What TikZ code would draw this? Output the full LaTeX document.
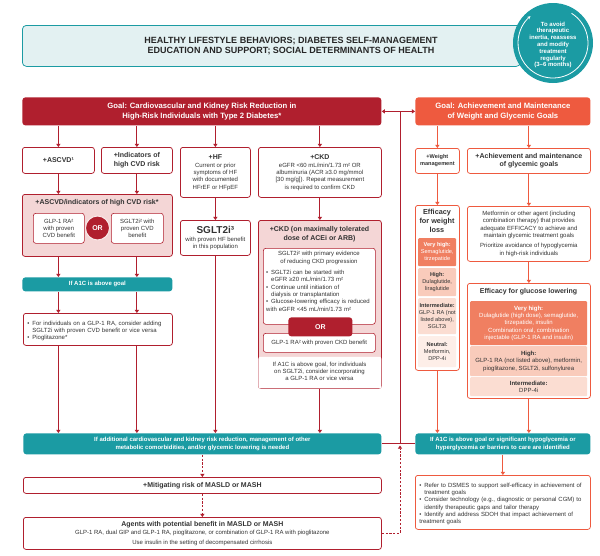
\documentclass[tikz,border=0pt]{standalone}
\usepackage{fontspec}
\setmainfont{Liberation Sans}
\usetikzlibrary{arrows.meta,calc}
\definecolor{dred}{HTML}{B01F2E}
\definecolor{pinkf}{HTML}{F4D6D6}
\definecolor{orng}{HTML}{EE5A3F}
\definecolor{teal1}{HTML}{1B9BA3}
\definecolor{headf}{HTML}{E3F1F2}
\definecolor{vhigh}{HTML}{F07F61}
\definecolor{highf}{HTML}{F9CBBB}
\definecolor{intf}{HTML}{FBDDD2}
\definecolor{neuf}{HTML}{FDEEE8}
\definecolor{txt}{HTML}{333333}
\newcommand{\fsz}{\fontsize{6}{7.3}\selectfont}
\newcommand{\fwz}{\fontsize{5.6}{7}\selectfont}
\newcommand{\ftt}{\fontsize{7}{8.5}\selectfont\bfseries}
\newcommand{\bitem}{\par\hangindent=5pt\hangafter=1\noindent\hbox to 5pt{\textbullet\hss}}
\tikzset{
  base/.style={anchor=north west, align=center, inner sep=0pt, text=txt, font=\fsz, line width=0.75pt, rounded corners=2.5pt},
  rbox/.style={base, draw=dred, fill=white},
  obox/.style={base, draw=orng, fill=white},
  pbox/.style={base, draw=dred, fill=pinkf},
  band/.style={base, fill=teal1, text=white, font=\fsz\bfseries, rounded corners=3pt},
  seg/.style={anchor=north west, align=center, inner sep=0pt, font=\fwz, text=txt, rounded corners=1pt},
  sz/.style n args={2}{minimum width=#1pt, minimum height=#2pt},
  arr/.style={-{Triangle[length=3.2pt,width=4.2pt]}, line width=0.9pt, draw=dred},
  oarr/.style={arr, draw=orng},
  darr/.style={arr, dash pattern=on 2.2pt off 1.6pt},
  plainln/.style={line width=0.9pt, draw=dred},
}
\begin{document}
\begin{tikzpicture}[x=1pt, y=-1pt, line join=round]
\useasboundingbox (0,0) rectangle (600,555);
\fill[white] (0,0) rectangle (600,555);

% header
\node[base, draw=teal1, fill=headf, sz={498}{41}, rounded corners=4pt] (head) at (22,25) {};
\node[font=\fontsize{9}{10.8}\selectfont\bfseries, text=black!85, align=center] (headtxt) at (291,46)
  {HEALTHY LIFESTYLE BEHAVIORS; DIABETES SELF-MANAGEMENT\\ EDUCATION AND SUPPORT; SOCIAL DETERMINANTS OF HEALTH};
\node[circle, fill=teal1, minimum size=80pt, inner sep=0pt] (cyc) at (553,43) {};
\draw[white, line width=0.8pt, -{Stealth[length=3.2pt,width=3.2pt]}] ($(cyc.center)+(58:35pt)$) arc[start angle=58, end angle=-230, radius=35pt];
\node[font=\fontsize{6}{6.8}\selectfont\bfseries, text=white, align=center] (cyctxt) at (553,45)
  {To avoid\\ therapeutic\\ inertia, reassess\\ and modify\\ treatment\\ regularly\\ (3–6 months)};

% goals
\node[base, fill=dred, text=white, font=\fontsize{7.7}{9.4}\selectfont\bfseries, sz={359}{28}, rounded corners=3pt] (lgoal) at (22,97)
  {Goal: Cardiovascular and Kidney Risk Reduction in\\ High-Risk Individuals with Type 2 Diabetes*};
\node[base, fill=orng, text=white, font=\fontsize{7.7}{9.4}\selectfont\bfseries, sz={175}{28}, rounded corners=3pt] (rgoal) at (415,97)
  {Goal: Achievement and Maintenance\\ of Weight and Glycemic Goals};

% left row 1
\node[rbox, sz={72}{26}, font=\ftt] (ascvd) at (22,147) {+ASCVD¹};
\node[rbox, sz={71}{26}, font=\ftt] (ind) at (101,147) {+Indicators of\\ high CVD risk};
\node[rbox, sz={70}{50}] (hf) at (180,147) {{\ftt +HF}\\[0.5pt] Current or prior\\ symptoms of HF\\ with documented\\ HFrEF or HFpEF};
\node[rbox, sz={123}{50}] (ckd) at (258,147) {{\ftt +CKD}\\[0.5pt] eGFR <60 mL/min/1.73 m² OR\\ albuminuria (ACR ≥3.0 mg/mmol\\ {[}30 mg/g{]}). Repeat measurement\\ is required to confirm CKD};

% CVD pink box
\node[pbox, sz={150}{62}] (cvd) at (22,194) {};
\node[font=\ftt, text=txt] (cvdt) at (97,202.5) {+ASCVD/indicators of high CVD risk*};
\node[rbox, sz={51}{30}, line width=0.6pt] (glp1) at (33,213) {GLP-1 RA²\\ with proven\\ CVD benefit};
\node[rbox, sz={52}{30}, line width=0.6pt] (sgl1) at (111,213) {SGLT2i² with\\ proven CVD\\ benefit};
\node[circle, fill=dred, draw=pinkf!50!white, line width=1pt, minimum size=24pt, text=white, font=\fontsize{7}{7}\selectfont\bfseries, inner sep=0pt] (or1) at (97.5,228) {OR};

\node[band, sz={150}{14}] (a1c1) at (22,277) {If A1C is above goal};
\node[rbox, sz={149}{32}, align=left, text width=141pt] (b1) at (23,313)
  {\bitem For individuals on a GLP-1 RA, consider adding\newline SGLT2i with proven CVD benefit or vice versa\bitem Pioglitazone*};

% HF
\node[rbox, sz={70}{35}] (sglhf) at (180,220) {{\fontsize{10}{11}\selectfont\bfseries SGLT2i³}\\[1pt] with proven HF benefit\\ in this population};

% CKD max
\node[pbox, sz={123}{168}] (ckdmax) at (258,220) {};
\fill[white, rounded corners=2pt] ([xshift=0.4pt,yshift=0.4pt]ckdmax.south west) rectangle ([xshift=-0.4pt,yshift=32pt]ckdmax.south east);
\node[font=\ftt, text=txt, align=center] (ckdmt) at (319.5,234) {+CKD (on maximally tolerated\\ dose of ACEi or ARB)};
\node[rbox, sz={112}{76}, line width=0.6pt] (ckdin) at (263,248) {};
\node[font=\fsz, text=txt, align=center] (ckdint) at (319,258) {SGLT2i² with primary evidence\\ of reducing CKD progression};
\node[anchor=north west, inner sep=0pt, font=\fsz, text=txt, align=left, text width=109pt] (ckdbul) at (266,267)
  {\bitem SGLT2i can be started with\newline eGFR ≥20 mL/min/1.73 m²\bitem Continue until initiation of\newline dialysis or transplantation\bitem Glucose-lowering efficacy is reduced\newline with eGFR <45 mL/min/1.73 m²};
\node[rbox, sz={112}{19}, line width=0.6pt] (glp2) at (263,333) {GLP-1 RA² with proven CKD benefit};
\node[base, fill=dred, sz={64}{19}, rounded corners=3pt, text=white, font=\ftt] (or2) at (288,317) {OR};
\node[font=\fsz, text=txt, align=center] (ckdnote) at (319.5,371.5) {If A1C is above goal, for individuals\\ on SGLT2i, consider incorporating\\ a GLP-1 RA or vice versa};

% bottom left
\node[band, sz={358}{21}] (band2) at (23,433) {If additional cardiovascular and kidney risk reduction, management of other\\ metabolic comorbidities, and/or glycemic lowering is needed};
\node[rbox, sz={358}{16}, font=\ftt] (masld) at (23,477) {+Mitigating risk of MASLD or MASH};
\node[rbox, sz={358}{32}] (agents) at (23,517) {{\ftt Agents with potential benefit in MASLD or MASH}\\[1pt] GLP-1 RA, dual GIP and GLP-1 RA, pioglitazone, or combination of GLP-1 RA with pioglitazone\\[2pt] Use insulin in the setting of decompensated cirrhosis};

% right side
\node[obox, sz={44}{25}, font=\fontsize{5.6}{7}\selectfont\bfseries] (wm) at (415,148) {+Weight\\ management};
\node[obox, sz={123}{25}, font=\ftt] (agg) at (467,148) {+Achievement and maintenance\\ of glycemic goals};
\node[obox, sz={44}{165}] (effw) at (415,205) {};
\node[font=\fontsize{7.3}{9}\selectfont\bfseries, text=txt, align=center] (effwt) at (437,221) {Efficacy\\ for weight\\ loss};
\node[seg, fill=vhigh, text=white, sz={38}{28}] (wvh) at (418,238) {\textbf{Very high:}\\ Semaglutide,\\ tirzepatide};
\node[seg, fill=highf, sz={38}{28}] (whi) at (418,268) {\textbf{High:}\\ Dulaglutide,\\ liraglutide};
\node[seg, fill=intf, sz={38}{36}] (wint) at (418,298) {\textbf{Intermediate:}\\ GLP-1 RA (not\\ listed above),\\ SGLT2i};
\node[seg, fill=neuf, sz={38}{31}] (wneu) at (418,336) {\textbf{Neutral:}\\ Metformin,\\ DPP-4i};

\node[obox, sz={123}{55}] (met) at (467,206) {Metformin or other agent (including\\ combination therapy) that provides\\ adequate EFFICACY to achieve and\\ maintain glycemic treatment goals\\[3pt] Prioritize avoidance of hypoglycemia\\ in high-risk individuals};
\node[obox, sz={123}{115}] (effg) at (467,283) {};
\node[font=\ftt, text=txt] (effgt) at (528.5,292) {Efficacy for glucose lowering};
\node[seg, font=\fsz, fill=vhigh, text=white, sz={117}{44}] (gvh) at (470,301) {\textbf{Very high:}\\ Dulaglutide (high dose), semaglutide,\\ tirzepatide, insulin\\ Combination oral, combination\\ injectable (GLP-1 RA and insulin)};
\node[seg, font=\fsz, fill=highf, sz={117}{30}] (ghi) at (470,346) {\textbf{High:}\\ GLP-1 RA (not listed above), metformin,\\ pioglitazone, SGLT2i, sulfonylurea};
\node[seg, font=\fsz, fill=intf, sz={117}{19}] (gint) at (470,377) {\textbf{Intermediate:}\\ DPP-4i};

\node[band, sz={175}{21}] (band3) at (415,433) {If A1C is above goal or significant hypoglycemia or\\ hyperglycemia or barriers to care are identified};
\node[obox, sz={175}{54}, align=left, text width=167pt] (final) at (415,475)
  {\bitem Refer to DSMES to support self-efficacy in achievement of\newline treatment goals\bitem Consider technology (e.g., diagnostic or personal CGM) to\newline identify therapeutic gaps and tailor therapy\bitem Identify and address SDOH that impact achievement of\newline treatment goals};

% connectors left
\draw[arr] (lgoal.south -| ascvd.north) -- (ascvd.north);
\draw[arr] (lgoal.south -| ind.north) -- (ind.north);
\draw[arr] (lgoal.south -| hf.north) -- (hf.north);
\draw[arr] (lgoal.south -| ckd.north) -- (ckd.north);
\draw[arr] (ascvd.south) -- (ascvd.south |- cvd.north);
\draw[arr] (ind.south) -- (ind.south |- cvd.north);
\draw[arr] (ascvd.south |- cvd.south) -- (ascvd.south |- a1c1.north);
\draw[arr] (ind.south |- cvd.south) -- (ind.south |- a1c1.north);
\draw[arr] (ascvd.south |- a1c1.south) -- (ascvd.south |- b1.north);
\draw[arr] (ind.south |- a1c1.south) -- (ind.south |- b1.north);
\draw[arr] (ascvd.south |- b1.south) -- (ascvd.south |- band2.north);
\draw[arr] (ind.south |- b1.south) -- (ind.south |- band2.north);
\draw[arr] (hf.south) -- (sglhf.north);
\draw[arr] (sglhf.south) -- (sglhf.south |- band2.north);
\draw[arr] (ckd.south) -- (ckdmax.north);
\draw[arr] (ckdmax.south) -- (ckdmax.south |- band2.north);
\draw[darr] (band2.south) -- (masld.north);
\draw[darr] (masld.south) -- (agents.north);

% junction
\coordinate (jt) at (400,111);
\coordinate (jb) at (400,443.5);
\draw[plainln, {Triangle[length=3.2pt,width=4.2pt]}-{Triangle[length=3.2pt,width=4.2pt]}] (lgoal.east) -- (rgoal.west);
\draw[plainln] (jt) -- (jb);
\draw[plainln] (band2.east) -- (band3.west);
\draw[darr] (agents.east) -| ([yshift=-2pt]jb);

% connectors right
\draw[oarr] (rgoal.south -| wm.north) -- (wm.north);
\draw[oarr] (rgoal.south -| agg.north) -- (agg.north);
\draw[oarr] (wm.south) -- (effw.north);
\draw[oarr] (agg.south) -- (met.north);
\draw[oarr] (met.south) -- (effg.north);
\draw[oarr] (effw.south) -- (effw.south |- band3.north);
\draw[oarr] (effg.south) -- (effg.south |- band3.north);
\draw[oarr] (band3.south) -- (final.north);
\end{tikzpicture}
\end{document}
